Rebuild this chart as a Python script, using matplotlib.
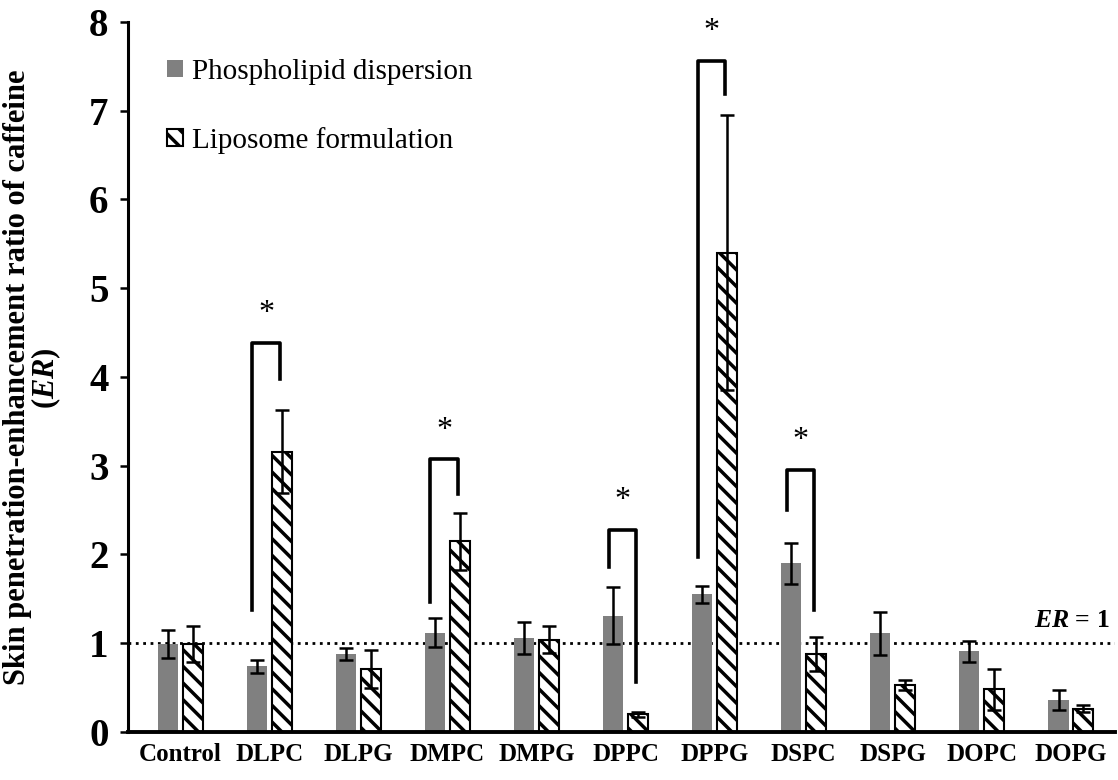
import numpy as np
import matplotlib
matplotlib.use('Agg')
import matplotlib.pyplot as plt
from matplotlib.patches import Patch

plt.rcParams['font.family'] = 'Liberation Serif'
plt.rcParams['mathtext.fontset'] = 'custom'
plt.rcParams['mathtext.rm'] = 'Liberation Serif'
plt.rcParams['mathtext.it'] = 'Liberation Serif:italic'
plt.rcParams['mathtext.bf'] = 'Liberation Serif:bold'
plt.rcParams['mathtext.bfit'] = 'Liberation Serif:italic:bold'
plt.rcParams['hatch.linewidth'] = 2.5

categories = ['Control', 'DLPC', 'DLPG', 'DMPC', 'DMPG', 'DPPC',
              'DPPG', 'DSPC', 'DSPG', 'DOPC', 'DOPG']
dispersion = [0.99, 0.74, 0.88, 1.12, 1.06, 1.31, 1.55, 1.90, 1.11, 0.91, 0.36]
dispersion_err = [0.16, 0.07, 0.065, 0.16, 0.18, 0.32, 0.10, 0.23, 0.24, 0.12, 0.11]
liposome = [0.99, 3.16, 0.71, 2.15, 1.04, 0.20, 5.40, 0.88, 0.53, 0.48, 0.26]
liposome_err = [0.20, 0.47, 0.21, 0.32, 0.15, 0.03, 1.55, 0.19, 0.06, 0.23, 0.04]

# significance brackets: category index, left leg bottom, top, right leg bottom
sig_idx = [1, 3, 5, 6, 7]
sig_left = [1.37, 1.46, 1.86, 1.97, 2.50]
sig_top = [4.38, 3.07, 2.28, 7.56, 2.95]
sig_right = [3.98, 2.68, 0.56, 7.19, 1.38]

x = np.arange(len(categories))
w = 0.225

fig = plt.figure(figsize=(11.18, 7.8), dpi=100)
ax = fig.add_axes([0.1145, 0.0615, 0.8825, 0.9105])

ax.bar(x - 0.14, dispersion, w, color='#808080', edgecolor='none',
       label='Phospholipid dispersion', zorder=2)
ax.bar(x + 0.14, liposome, w, color='white', edgecolor='black', hatch='\\\\',
       linewidth=1.5, label='Liposome formulation', zorder=2)
ax.errorbar(x - 0.14, dispersion, yerr=dispersion_err, fmt='none',
            ecolor='black', elinewidth=1.8, capsize=5, capthick=1.8, zorder=3)
ax.errorbar(x + 0.14, liposome, yerr=liposome_err, fmt='none',
            ecolor='black', elinewidth=1.8, capsize=5, capthick=1.8, zorder=3)

for i, lb, tp, rb in zip(sig_idx, sig_left, sig_top, sig_right):
    ax.plot([i - 0.19, i - 0.19, i + 0.12, i + 0.12], [lb, tp, tp, rb],
            color='black', lw=2.6, solid_joinstyle='round', zorder=4)
    ax.text(i - 0.035, tp + 0.33, '*', ha='center', va='center', fontsize=23)

ax.axhline(1, color='black', ls=':', lw=2, zorder=1)
ax.text(10.43, 1.26, r'$\mathbfit{ER}$ = 1', ha='right', va='center',
        fontsize=18.5, fontweight='bold')

ax.set_xlim(-0.585, 10.49)
ax.set_ylim(0, 8)
ax.set_yticks(range(9))
ax.set_xticks(x)
ax.set_xticklabels(categories, fontsize=18, fontweight='bold')
ax.tick_params(axis='x', length=0, pad=8)
ax.tick_params(axis='y', labelsize=28, width=1.8, length=6, pad=8)
for t in ax.get_yticklabels():
    t.set_fontweight('bold')

for s in ['top', 'right']:
    ax.spines[s].set_visible(False)
ax.spines['left'].set_linewidth(2.2)
ax.spines['bottom'].set_linewidth(2.8)

ax.set_ylabel('Skin penetration-enhancement ratio of caffeine\n' + r'($\mathbfit{ER}$)',
              fontsize=22, fontweight='bold', linespacing=0.9)
ax.yaxis.set_label_coords(-0.066, 0.499)

handles = [Patch(facecolor='#808080', edgecolor='none', label='Phospholipid dispersion'),
           Patch(facecolor='white', edgecolor='black', hatch='\\\\', linewidth=1.5,
                 label='Liposome formulation')]
ax.legend(handles=handles, loc='upper left', bbox_to_anchor=(0.013, 0.985), frameon=False,
          fontsize=21, handlelength=0.55, handleheight=0.55, handletextpad=0.3,
          labelspacing=1.45)

fig.savefig('out.png', dpi=100)
